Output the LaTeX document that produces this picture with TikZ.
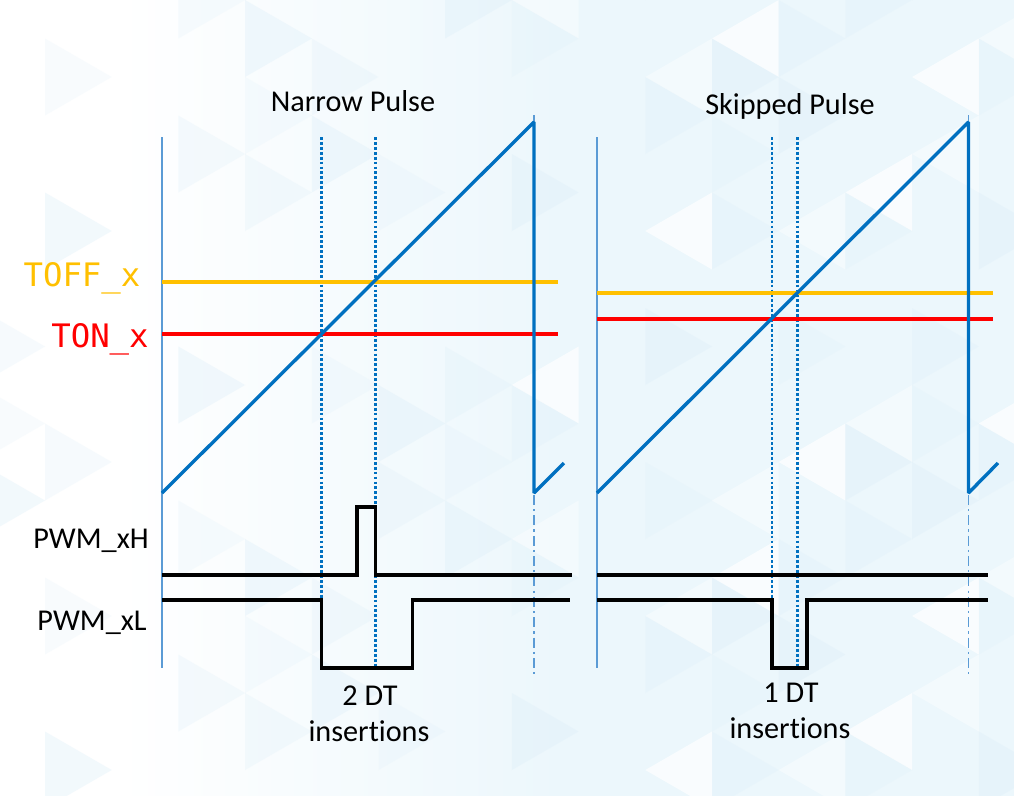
\documentclass[tikz,border=0pt]{standalone}
\usepackage{fontspec}
\setmainfont{Carlito}[RawFeature={-liga}]
\newfontfamily\levelfont{DejaVu Sans Mono}
\usepackage{xcolor}

\definecolor{rampblue}{HTML}{0070C0}
\definecolor{guideblue}{HTML}{5B9BD5}
\definecolor{toffcol}{HTML}{FFC000}
\definecolor{toncol}{HTML}{FF0000}
\definecolor{bgblue}{HTML}{ECF7FC}
\definecolor{tricol}{HTML}{DCEEF9}

\tikzset{
  ramp/.style={rampblue, line width=2.4pt, line join=bevel},
  guide/.style={guideblue, line width=1.2pt},
  dtline/.style={rampblue, line width=1.6pt, dash pattern=on 2pt off 1.5pt},
  period/.style={guideblue, line width=1.1pt, dash pattern=on 7pt off 3pt on 1.5pt off 3pt},
  level/.style={line width=2.5pt},
  wave/.style={black, line width=2.3pt},
  lbl/.style={font=\fontsize{21.5}{24}\selectfont, anchor=base},
  lvl/.style={font=\levelfont\fontsize{23}{26}\selectfont, anchor=base},
}

\begin{document}
\begin{tikzpicture}[x=0.025cm,y=-0.025cm]
        \useasboundingbox (0,0) rectangle (1014,796);

        % background
        \begin{scope}
            \clip (0,0) rectangle (1014,796);
            \fill[white] (0,0) rectangle (1014,796);
            \shade[left color=white, right color=bgblue] (120,0) rectangle (560,796);
            \fill[bgblue] (560,0) rectangle (1014,796);
            \foreach \i in {0,...,16}{
                \foreach \j in {0,...,11}{
                    \pgfmathsetmacro\xa{45+66.7*(\i-1)}
                    \pgfmathsetmacro\ya{77*(\j-1)+38.5*mod(\i,2)}
                    \pgfmathtruncatemacro\k{mod(3*\i+5*\j+\i*\j,7)}
                    \pgfmathsetmacro\op{{0.35,0,0.2,0,0.25,0,0}[\k]}
                    \pgfmathsetmacro\wop{{0,0,0,0.4,0,0.7,0}[\k]*(\i>7)}
                    \fill[tricol, opacity=\op] (\xa,\ya) -- (\xa,\ya+77) -- (\xa+66.7,\ya+38.5) -- cycle;
                    \fill[white, opacity=\wop] (\xa+66.7,\ya+38.5) -- (\xa+66.7,\ya+115.5) -- (\xa,\ya+77) -- cycle;
                }
            }
        \end{scope}

        % titles
        \node[lbl] (narrow) at (353,111) {Narrow Pulse};
        \node[lbl] (skipped) at (790,114) {Skipped Pulse};

        % level labels
        \node[lvl, toffcol] (toff) at (82,286) {TOFF\_x};
        \node[lvl, toncol] (ton) at (100,347) {TON\_x};
        \node[lbl] (pwmh) at (91,548) {PWM\_xH};
        \node[lbl] (pwml) at (92,630) {PWM\_xL};

        % narrow pulse
        \draw[guide] (162,137) -- (162,668);
        \draw[dtline] (321.5,137) -- (321.5,668);
        \draw[dtline] (375.5,137) -- (375.5,668);
        \draw[level, toffcol] (162,282) -- (558,282);
        \draw[level, toncol] (162,334) -- (558,334);
        \draw[guide] (534,115) -- (534,124);
        \draw[ramp] (162,493) -- (534,122) -- (534,493) -- (564,463);
        \draw[period] (534,495) -- (534,675);
        \draw[wave] (162,575) -- (357,575) -- (357,507) -- (375.5,507) -- (375.5,575) -- (572,575);
        \draw[wave] (162,600) -- (321.5,600) -- (321.5,668) -- (412.5,668) -- (412.5,600) -- (570,600);
        \node[lbl] (twodt) at (370,705) {2 DT};
        \node[lbl] (twoins) at (369,741) {insertions};

        % skipped pulse
        \draw[guide] (597,137) -- (597,668);
        \draw[dtline] (772,137) -- (772,668);
        \draw[dtline] (797.5,137) -- (797.5,668);
        \draw[level, toffcol] (597,293) -- (993,293);
        \draw[level, toncol] (597,319) -- (993,319);
        \draw[guide] (968.5,115) -- (968.5,124);
        \draw[ramp] (597,493) -- (968.5,122) -- (968.5,493) -- (998,463);
        \draw[period] (968.5,495) -- (968.5,675);
        \draw[wave] (597,575) -- (988,575);
        \draw[wave] (597,600) -- (772,600) -- (772,668) -- (807,668) -- (807,600) -- (988,600);
        \node[lbl] (onedt) at (791,702) {1 DT};
        \node[lbl] (oneins) at (790,738) {insertions};
    \end{tikzpicture}
\end{document}
